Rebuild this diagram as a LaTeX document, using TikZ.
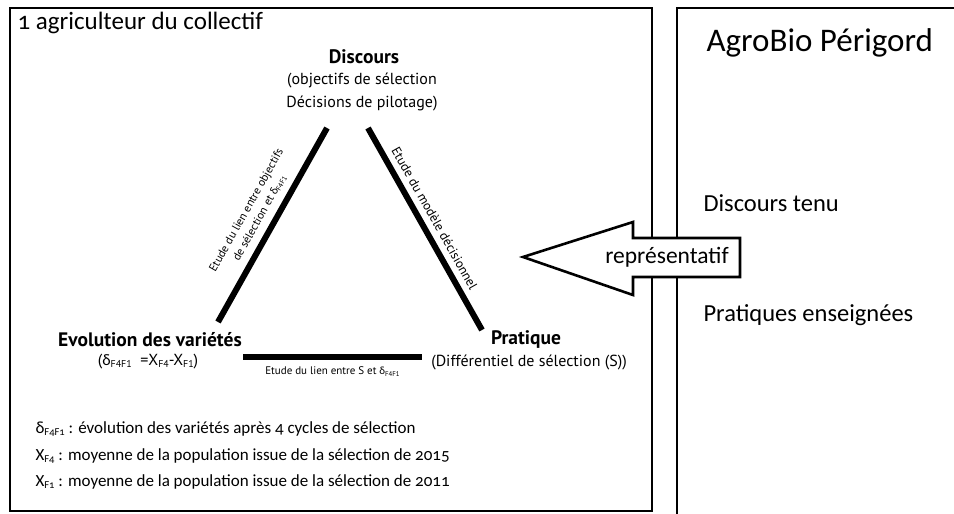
\documentclass[tikz,border=0pt]{standalone}
\usepackage{fontspec}
\setmainfont{Carlito}[Numbers=OldStyle]
\newfontfamily\myr{PT Sans}
\newfontfamily\carl{Carlito}
\newcommand\dlt{{\carl δ}}
\newcommand\fsub[1]{\raisebox{-0.25ex}{\scalebox{0.62}{#1}}}
\newcommand\fs[1]{\fontsize{#1}{#1}\selectfont}
\begin{document}
\begin{tikzpicture}[x=1pt,y=-1pt,
  box/.style={line width=2.6pt},
  edge/.style={line width=6pt},
  head/.style={font=\myr\fs{19.5}\bfseries},
  sub/.style={font=\myr\fontsize{16}{23}\selectfont, align=center},
  elabel/.style={font=\myr\fontsize{11.5}{15}\selectfont, align=center, inner sep=1pt},
  legend/.style={font=\fs{17}, anchor=west},
  rtext/.style={font=\fs{24.5}, anchor=west}]
\useasboundingbox (0,0) rectangle (954,514);
% boxes
\draw[box] (10,8) rectangle (652,511);
\draw[box] (677,530) -- (677,8) -- (970,8);
% title
\node[font=\fs{25}, anchor=west] (title) at (14,23) {1 agriculteur du collectif};
% vertices
\node[head] (disc) at (364,57) {Discours};
\node[sub] (disct) at (362,92) {(objectifs de sélection\\Décisions de pilotage)};
\node[head] (evo) at (150,340) {Evolution des variétés};
\node[sub] (evot) at (148,362) {(\dlt\fsub{F4F1}\ \ =X\fsub{F4}-X\fsub{F1})};
\node[head] (prat) at (526,340) {Pratique};
\node[sub] (pratt) at (529,362) {(Différentiel de sélection (S))};
% triangle edges
\coordinate (lt) at (327,128);
\coordinate (lb) at (218,322);
\coordinate (rt) at (368,128);
\coordinate (rb) at (482,330);
\coordinate (bl) at (243,357);
\coordinate (br) at (422,357);
\draw[edge] (lb) -- node[elabel, sloped, above=6pt, pos=0.5] (lab1) {Etude du lien entre objectifs\\de sélection et \dlt\fsub{F4F1}} (lt);
\draw[edge] (rt) -- node[elabel, font=\myr\fs{13}, sloped, above=5pt, pos=0.48] (lab2) {Etude du modèle décisionnel} (rb);
\draw[edge] (bl) -- node[elabel, font=\myr\fs{11}, below=6pt] (lab3) {Etude du lien entre S et \dlt\fsub{F4F1}} (br);
% legend
\node[legend] (l1) at (32,429) {δ\fsub{F4F1} : évolution des variétés après 4 cycles de sélection};
\node[legend] (l2) at (32,456) {X\fsub{F4} : moyenne de la population issue de la sélection de 2015};
\node[legend] (l3) at (32,482) {X\fsub{F1} : moyenne de la population issue de la sélection de 2011};
% right box
\node[font=\fs{33}, anchor=west] (agro) at (703,43) {AgroBio Périgord};
\node[rtext] (dt) at (700,203) {Discours tenu};
\node[rtext] (pe) at (700,315) {Pratiques enseignées};
% arrow
\draw[box, fill=white] (523,257) -- (633,222) -- (633,238) -- (740,238) -- (740,277) -- (633,277) -- (633,295) -- cycle;
\node[font=\fs{23.5}] (rep) at (667,257) {représentatif};
\end{tikzpicture}
\end{document}
